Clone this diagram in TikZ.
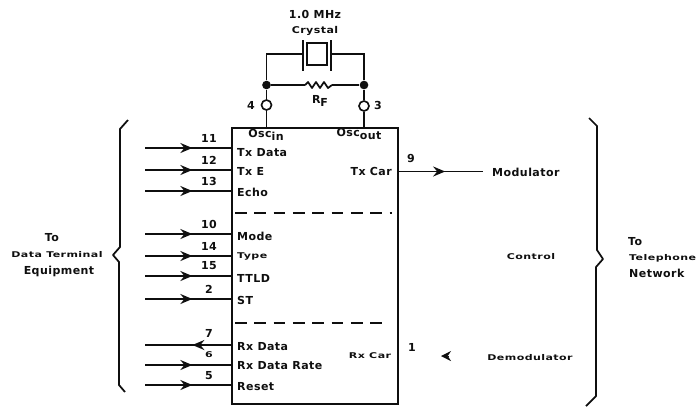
\documentclass[tikz,border=0pt]{standalone}
\usepackage{fontspec}
\setmainfont[LetterSpace=4.0]{DejaVu Sans}
\usepackage{tikz}
\usetikzlibrary{arrows.meta, decorations.markings}
\definecolor{InkColor}{RGB}{15,15,15}
\newcommand{\squat}[1]{\scalebox{1}[.72]{#1}}
\newcommand{\lowtext}[1]{\raisebox{-3pt}{#1}}
\tikzset{
  wire/.style={line width=1.5pt, InkColor},
  sigin/.style={wire, postaction={decorate}, decoration={markings, mark=at position 0.55 with {\arrow{Stealth[length=3.6mm,width=3mm,inset=1.2mm]}}}},
  sigout/.style={wire, postaction={decorate}, decoration={markings, mark=at position 0.55 with {\arrowreversed{Stealth[length=3.6mm,width=3mm,inset=1.2mm]}}}},
  txt/.style={font=\bfseries\fontsize{9.4}{11}\selectfont, text=InkColor, inner sep=0pt},
  pinhole/.style={circle, draw=InkColor, line width=1.4pt, fill=white, minimum size=0.3cm, inner sep=0pt},
  dotnode/.style={circle, fill=InkColor, minimum size=0.26cm, inner sep=0pt},
  divider/.style={wire, dash pattern=on 10pt off 6.5pt}
}
\begin{document}
\begin{tikzpicture}[x=0.03cm,y=-0.03cm]
  \useasboundingbox (0,0) rectangle (698,409);
  \node[draw=InkColor, line width=1.5pt, minimum width=4.98cm, minimum height=8.28cm, inner sep=0pt] (chip) at (315,266) {};
  \coordinate (oscinpin) at (266.5,128);
  \coordinate (oscoutpin) at (364,128);
  \node[pinhole] (pinfour) at (266.5,105) {};
  \node[pinhole] (pinthree) at (364,106) {};
  \node[dotnode] (dotleft) at (266.5,85) {};
  \node[dotnode] (dotright) at (364,85) {};
  \node[draw=InkColor, line width=1.3pt, minimum width=0.6cm, minimum height=0.66cm, inner sep=0pt] (xtal) at (317,54) {};
  \coordinate (plateleft) at (303,54);
  \coordinate (plateright) at (331,54);
  \coordinate (resleft) at (305,85);
  \coordinate (resright) at (332,85);
  \draw[wire] (chip.north -| oscinpin) -- (pinfour);
  \draw[wire] (chip.north -| oscoutpin) -- (pinthree);
  \draw[wire] (pinfour) -- (dotleft);
  \draw[wire] (pinthree) -- (dotright);
  \draw[wire] (dotleft) -- (resleft);
  \draw[wire] (resright) -- (dotright);
  \draw[wire] (dotleft) |- (plateleft);
  \draw[wire] (dotright) |- (plateright);
  \draw[wire] (303,40) -- (303,71);
  \draw[wire] (331,40) -- (331,71);
  \draw[wire, line join=round] (resleft) -- ++(3,-3) -- ++(4,6) -- ++(4,-6) -- ++(4,6) -- ++(4,-6) -- ++(4,6) -- (resright);
  \node[txt] (freq) at (315,14) {1.0 MHz};
  \node[txt] (crystal) at (315,31) {\scalebox{1}[.85]{Crystal}};
  \node[txt] (rf) at (320,101) {R\lowtext{F}};
  \node[txt] (numfour) at (251,105) {4};
  \node[txt] (numthree) at (378,105) {3};
  \foreach \n/\ly/\ty/\numy/\lab in {11/148/153/138/Tx Data, 12/170/171/160/Tx E, 13/191/192/181/Echo, 10/234/236/224/Mode, 15/276/278/266/TTLD, 2/299/300/289/ST, 5/385/387/376/Reset}{
    \coordinate (in\n) at (145,\ly);
    \draw[sigin] (in\n) -- (in\n -| chip.west);
    \node[txt] (num\n) at (209,\numy) {\n};
    \node[txt, anchor=west] (lab\n) at (237,\ty) {\lab};
  }
  \coordinate (in14) at (145,256);
  \draw[sigin] (in14) -- (in14 -| chip.west);
  \node[txt] (num14) at (209,246) {14};
  \node[txt, anchor=west] (lab14) at (237,256) {\squat{Type}};
  \coordinate (in7) at (145,345);
  \draw[sigout] (in7) -- (in7 -| chip.west);
  \node[txt] (num7) at (209,333) {7};
  \node[txt, anchor=west] (lab7) at (237,347) {Rx Data};
  \coordinate (in6) at (145,365);
  \draw[sigin] (in6) -- (in6 -| chip.west);
  \node[txt] (num6) at (209,355) {\squat{6}};
  \node[txt, anchor=west] (lab6) at (237,366) {Rx Data Rate};
  \draw[divider] (235,213) -- (392,213);
  \draw[divider] (235,323) -- (388,323);
  \node[txt] (oscin) at (266,135) {Osc\lowtext{in}};
  \node[txt] (oscout) at (359,134) {Osc\lowtext{out}};
  \node[txt, anchor=east] (txcar) at (392,171) {Tx Car};
  \node[txt] (numnine) at (411,158) {9};
  \coordinate (modend) at (483,171.5);
  \draw[sigin] (modend -| chip.east) -- (modend);
  \node[txt, anchor=west] (modulator) at (492,172) {Modulator};
  \node[txt] (control) at (531,257) {\squat{Control}};
  \node[txt] (rxcar) at (370,356) {\squat{Rx Car}};
  \node[txt] (numone) at (412,347) {1};
  \coordinate (demoda) at (449,356);
  \coordinate (demodb) at (441,356);
  \draw[InkColor, line width=0.4pt, -{Stealth[length=3mm,width=3mm,inset=1mm]}] (demoda) -- (demodb);
  \node[txt] (demod) at (530,358) {\squat{Demodulator}};
  \draw[wire, line join=round] (128,120) -- (120,129) -- (120,247) -- (113,255) -- (119,262) -- (119,385) -- (125,392);
  \draw[wire, line join=round] (589,118) -- (597,126) -- (597,250) -- (603,259) -- (596,267) -- (596,396) -- (586,406);
  \node[txt] (toleft) at (52,238) {To};
  \node[txt] (dataterm) at (57,255) {\squat{Data Terminal}};
  \node[txt] (equip) at (59,271) {Equipment};
  \node[txt, anchor=west] (toright) at (628,242) {To};
  \node[txt, anchor=west] (telephone) at (629,258) {\squat{Telephone}};
  \node[txt, anchor=west] (network) at (629,273) {Network};
\end{tikzpicture}
\end{document}
